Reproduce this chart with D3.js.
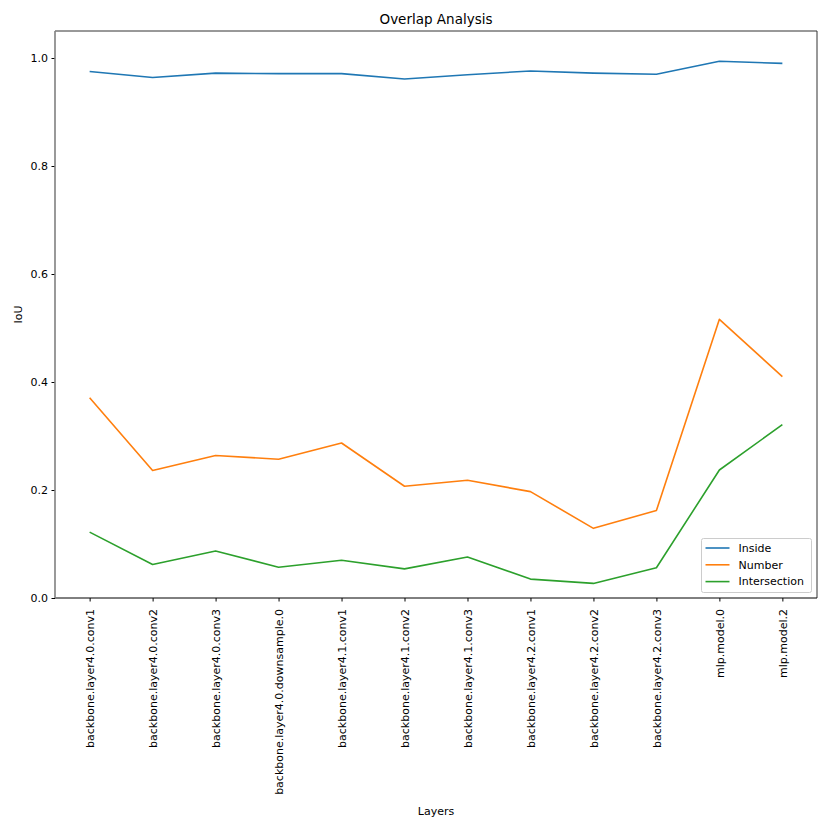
<!DOCTYPE html>
<html>
<head>
<meta charset="utf-8">
<script src="https://cdn.jsdelivr.net/npm/d3@7"></script>
<style>
  body { margin: 0; background: #fff; }
  text { font-family: "DejaVu Sans", sans-serif; }
</style>
</head>
<body>
<div class="chart"></div>
<script>
// DATA ------------------------------------
const layers = [
  'backbone.layer4.0.conv1', 'backbone.layer4.0.conv2', 'backbone.layer4.0.conv3',
  'backbone.layer4.0.downsample.0', 'backbone.layer4.1.conv1', 'backbone.layer4.1.conv2',
  'backbone.layer4.1.conv3', 'backbone.layer4.2.conv1', 'backbone.layer4.2.conv2',
  'backbone.layer4.2.conv3', 'mlp.model.0', 'mlp.model.2'
];
const inside = [0.975, 0.964, 0.972, 0.971, 0.971, 0.961, 0.969, 0.976, 0.972, 0.970, 0.994, 0.990];
const number = [0.371, 0.236, 0.264, 0.257, 0.287, 0.207, 0.218, 0.197, 0.129, 0.162, 0.516, 0.410];
const intersection = [0.122, 0.062, 0.087, 0.057, 0.070, 0.054, 0.076, 0.035, 0.027, 0.056, 0.237, 0.321];
const yTicks = [0.0, 0.2, 0.4, 0.6, 0.8, 1.0];

const series = [
  { name: 'Inside', values: inside, color: '#1f77b4' },
  { name: 'Number', values: number, color: '#ff7f0e' },
  { name: 'Intersection', values: intersection, color: '#2ca02c' }
];

// CHART INIT ------------------------------
const margin = { top: 31, right: 13, bottom: 232, left: 55 };
const width = 830 - margin.left - margin.right;
const height = 830 - margin.top - margin.bottom;
const fs = 11;

const svg = d3
  .select('.chart')
  .append('svg')
  .attr('width', 830)
  .attr('height', 830);

const group = svg
  .append('g')
  .attr('transform', 'translate(' + margin.left + ',' + margin.top + ')');

// point scale with matplotlib-like 5% margins
const xScale = d3.scalePoint().domain(layers).range([0, width]).padding(0.55);
const yScale = d3.scaleLinear().domain([0, 1.05]).range([height, 0]);

// axes
const xAxis = d3.axisBottom(xScale).tickSizeOuter(0).tickSize(3.5).tickPadding(3.5);
const xAxisGroup = group
  .append('g')
  .attr('transform', 'translate(0,' + height + ')')
  .call(xAxis);
xAxisGroup.select('.domain').remove();
xAxisGroup
  .selectAll('text')
  .attr('font-size', fs)
  .attr('font-family', '"DejaVu Sans", sans-serif')
  .attr('fill', '#000')
  .attr('transform', 'rotate(-90)')
  .attr('x', -11)
  .attr('y', 0)
  .attr('dy', '0.35em')
  .style('text-anchor', 'end');

const yAxis = d3.axisLeft(yScale).tickValues(yTicks).tickFormat(d3.format('.1f')).tickSize(3.5).tickPadding(3.5);
const yAxisGroup = group.append('g').call(yAxis);
yAxisGroup.select('.domain').remove();
yAxisGroup
  .selectAll('text')
  .attr('font-size', fs)
  .attr('font-family', '"DejaVu Sans", sans-serif')
  .attr('fill', '#000');

// lines
const line = d3
  .line()
  .x((d, i) => xScale(layers[i]))
  .y((d) => yScale(d));

group
  .selectAll('.series')
  .data(series)
  .enter()
  .append('path')
  .attr('class', 'series')
  .attr('fill', 'none')
  .attr('stroke', (d) => d.color)
  .attr('stroke-width', 1.6)
  .attr('stroke-linejoin', 'round')
  .attr('d', (d) => line(d.values));

// frame
group.append('line').attr('x1', 0).attr('x2', width).attr('y1', 0).attr('y2', 0).attr('stroke', '#333').attr('stroke-width', 1);
group.append('line').attr('x1', width).attr('x2', width).attr('y1', 0).attr('y2', height).attr('stroke', '#333').attr('stroke-width', 1);
group.append('line').attr('x1', 0).attr('x2', width).attr('y1', height).attr('y2', height).attr('stroke', '#000').attr('stroke-width', 1);
group.append('line').attr('x1', 0).attr('x2', 0).attr('y1', 0).attr('y2', height).attr('stroke', '#808080').attr('stroke-width', 1.6);

// titles
svg.append('text')
  .attr('x', margin.left + width / 2)
  .attr('y', 24)
  .attr('font-size', 13.5)
  .style('text-anchor', 'middle')
  .text('Overlap Analysis');

svg.append('text')
  .attr('x', margin.left + width / 2)
  .attr('y', 815)
  .attr('font-size', fs)
  .style('text-anchor', 'middle')
  .text('Layers');

svg.append('text')
  .attr('transform', 'translate(22,' + (margin.top + height / 2) + ') rotate(-90)')
  .attr('font-size', fs)
  .style('text-anchor', 'middle')
  .text('IoU');

// legend
const legend = group.append('g').attr('transform', 'translate(' + (width - 115.5) + ',' + (height - 59.5) + ')');
legend.append('rect')
  .attr('x', 0).attr('y', 0).attr('width', 110).attr('height', 54)
  .attr('rx', 2)
  .attr('fill', '#fff').attr('fill-opacity', 0.8)
  .attr('stroke', '#ccc');

const items = legend
  .selectAll('.item')
  .data(series)
  .enter()
  .append('g')
  .attr('class', 'item')
  .attr('transform', (d, i) => 'translate(0,' + (9.5 + i * 16.8) + ')');

items.append('line')
  .attr('x1', 4).attr('x2', 28).attr('y1', 0).attr('y2', 0)
  .attr('stroke', (d) => d.color).attr('stroke-width', 1.6);

items.append('text')
  .attr('x', 37).attr('y', 0).attr('dy', '0.35em')
  .attr('font-size', fs)
  .text((d) => d.name);
</script>
</body>
</html>
